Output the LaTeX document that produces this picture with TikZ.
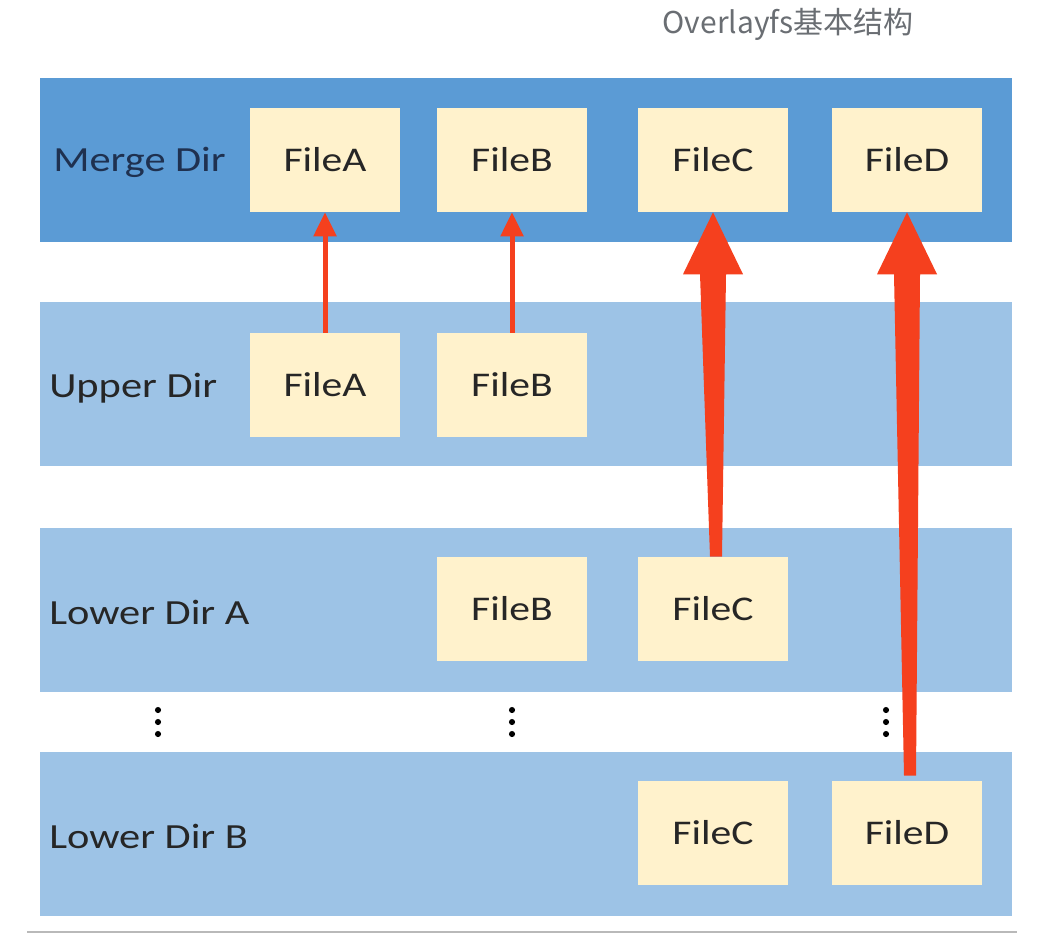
\documentclass[tikz,border=0pt]{standalone}
\usepackage{fontspec}
\usetikzlibrary{calc,arrows.meta}
\newfontfamily\labfont[FakeStretch=1.2]{Carlito}
\newfontfamily\cjkfont{Noto Sans CJK SC}
\definecolor{mergeblue}{HTML}{5B9BD5}
\definecolor{bandblue}{HTML}{9DC3E6}
\definecolor{filecream}{HTML}{FFF2CC}
\definecolor{arrowred}{HTML}{F5401E}
\definecolor{navytext}{HTML}{1F3150}
\definecolor{darktext}{HTML}{262626}
\definecolor{titlegray}{HTML}{6A6E73}
\newcommand\taperarrow[4]{% tail node, tip node, tail x offset, tail y offset
  \fill[arrowred] ($(#1.north)+(#3-6,#4)$) -- ($(#2.south)+(-13,62)$) -- ($(#2.south)+(-30,62)$) -- (#2.south)
    -- ($(#2.south)+(30,62)$) -- ($(#2.south)+(13,62)$) -- ($(#1.north)+(#3+6,#4)$) -- cycle;}
\begin{document}
\begin{tikzpicture}[x=0.75pt,y=-0.75pt,
  filebox/.style={fill=filecream, minimum width=112.5pt, minimum height=78pt, inner sep=0pt,
    text=darktext, font=\labfont\fontsize{26}{30}\selectfont},
  dirlabel/.style={anchor=west, inner sep=0pt, text=darktext, font=\labfont\fontsize{26.5}{30}\selectfont},
  thinarrow/.style={draw=arrowred, line width=3.75pt, -{Triangle[width=16.5pt,length=18pt]}},
  dotmark/.style={fill=black}]
\useasboundingbox (0,0) rectangle (1052,936);
\fill[white] (0,0) rectangle (1052,936);
% title
\node[text=titlegray, font=\cjkfont\fontsize{22.5}{26}\selectfont, inner sep=0pt] (title) at (788,24) {Overlayfs基本结构};
% bands
\fill[mergeblue] (40,78) rectangle (1012,242);
\fill[bandblue] (40,302) rectangle (1012,466);
\fill[bandblue] (40,528) rectangle (1012,692);
\fill[bandblue] (40,752) rectangle (1012,916);
% labels
\node[dirlabel, text=navytext] (lm) at (53,162) {Merge Dir};
\node[dirlabel] (lu) at (49,388) {Upper Dir};
\node[dirlabel] (la) at (49,612) {Lower Dir A};
\node[dirlabel] (lb) at (49,836) {Lower Dir B};
% merge row
\node[filebox] (mA) at (325,160) {FileA};
\node[filebox] (mB) at (512,160) {FileB};
\node[filebox] (mC) at (713,160) {FileC};
\node[filebox] (mD) at (907,160) {FileD};
% upper row
\node[filebox] (uA) at (325,385) {FileA};
\node[filebox] (uB) at (512,385) {FileB};
% lower A row
\node[filebox] (aB) at (512,609) {FileB};
\node[filebox] (aC) at (713,609) {FileC};
% lower B row
\node[filebox] (bC) at (713,833) {FileC};
\node[filebox] (bD) at (907,833) {FileD};
% dots
\foreach \xx in {158,512,886}{
  \foreach \yy in {710,722,734}{
    \fill[dotmark] (\xx,\yy) circle[radius=2.3pt];
  }
}
% arrows
\draw[thinarrow] (uA.north) -- (mA.south);
\draw[thinarrow] (uB.north) -- (mB.south);
\taperarrow{aC}{mC}{3}{0}
\taperarrow{bD}{mD}{3}{-5}
% bottom rule
\draw[gray!55, line width=1.5pt] (27,932) -- (1017,932);
\end{tikzpicture}
\end{document}
